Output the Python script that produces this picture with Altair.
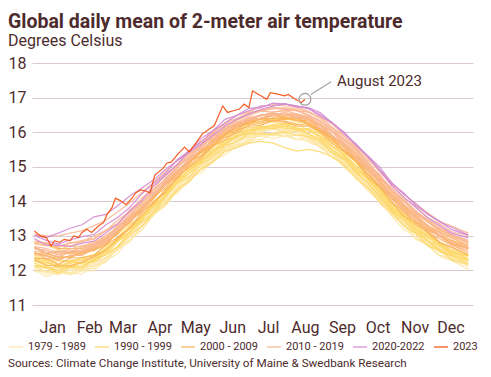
import altair as alt
import pandas as pd

TITLE = "Global daily mean of 2-meter air temperature"
SUBTITLE = "Degrees Celsius"
SOURCE = "Sources: Climate Change Institute, University of Maine & Swedbank Research"
TEXT = "#4d2b2d"

GROUPS = ["1979 - 1989", "1990 - 1999", "2000 - 2009", "2010 - 2019", "2020-2022", "2023"]
GROUP_COLORS = ["#fde7a6", "#fdd86a", "#fbb45b", "#f9b896", "#d48bd0", "#f54c0c"]

MONTHS = ["Jan", "Feb", "Mar", "Apr", "May", "Jun", "Jul", "Aug", "Sep", "Oct", "Nov", "Dec"]
MONTH_MID_DAY = [15, 46, 74, 105, 135, 166, 196, 227, 258, 288, 319, 349]
Y_TICKS = [11, 12, 13, 14, 15, 16, 17, 18]

DAYS = [0, 10, 20, 30, 40, 50, 60, 70, 80, 90, 100, 110, 120, 130, 140, 150, 160, 170,
        180, 190, 200, 210, 220, 230, 240, 250, 260, 270, 280, 290, 300, 310, 320, 330,
        340, 350, 364]

T1979 = [12.15, 11.90, 11.98, 11.93, 12.12, 12.12, 12.24, 12.65, 12.82, 13.31, 13.62, 13.88, 14.40, 14.58, 14.98, 15.18, 15.53, 15.57, 15.82, 15.98, 15.89, 15.97, 15.80, 15.85, 15.58, 15.28, 15.14, 14.70, 14.42, 13.93, 13.63, 13.36, 12.93, 12.76, 12.44, 12.38, 12.12]
T1980 = [12.11, 12.16, 11.99, 12.18, 12.05, 12.28, 12.54, 12.67, 13.07, 13.28, 13.79, 14.09, 14.36, 14.82, 15.01, 15.37, 15.47, 15.81, 15.88, 16.03, 16.12, 15.97, 16.02, 15.86, 15.80, 15.43, 15.09, 14.89, 14.51, 14.19, 13.67, 13.38, 13.19, 12.76, 12.64, 12.32, 12.27]
T1981 = [12.28, 12.08, 11.90, 12.05, 12.18, 12.26, 12.36, 12.58, 13.05, 13.42, 13.65, 14.07, 14.39, 14.63, 15.10, 15.31, 15.48, 15.73, 15.94, 15.92, 15.92, 16.06, 16.06, 15.84, 15.60, 15.46, 15.20, 14.75, 14.36, 14.11, 13.74, 13.32, 13.08, 12.88, 12.53, 12.41, 12.12]
T1982 = [12.04, 11.82, 11.95, 11.93, 11.90, 12.15, 12.29, 12.49, 12.97, 13.16, 13.60, 13.88, 14.32, 14.68, 14.82, 15.17, 15.46, 15.55, 15.77, 15.92, 15.81, 15.90, 15.91, 15.71, 15.58, 15.39, 15.03, 14.79, 14.46, 14.03, 13.72, 13.35, 13.13, 12.80, 12.61, 12.45, 12.25]
T1983 = [12.38, 12.33, 12.20, 12.31, 12.28, 12.44, 12.58, 12.88, 13.12, 13.49, 13.75, 14.17, 14.43, 14.82, 15.04, 15.41, 15.61, 15.73, 16.00, 16.01, 16.12, 16.00, 16.02, 15.88, 15.64, 15.46, 15.13, 14.87, 14.46, 14.06, 13.73, 13.35, 13.08, 12.74, 12.60, 12.36, 12.16]
T1984 = [12.11, 12.05, 11.93, 11.89, 12.05, 12.05, 12.40, 12.61, 12.83, 13.29, 13.59, 14.02, 14.24, 14.65, 14.92, 15.12, 15.50, 15.64, 15.71, 15.96, 15.94, 15.87, 15.92, 15.87, 15.54, 15.37, 14.96, 14.74, 14.43, 13.95, 13.60, 13.33, 12.90, 12.73, 12.44, 12.29, 12.03]
T1985 = [11.97, 11.96, 11.97, 11.88, 11.99, 11.99, 12.30, 12.64, 12.89, 13.15, 13.63, 13.87, 14.31, 14.55, 14.97, 15.19, 15.34, 15.63, 15.74, 15.79, 15.94, 15.89, 15.78, 15.76, 15.59, 15.25, 15.08, 14.69, 14.29, 14.01, 13.56, 13.18, 12.97, 12.73, 12.41, 12.28, 12.15]
T1986 = [12.15, 11.96, 11.97, 12.09, 11.99, 12.20, 12.35, 12.72, 13.08, 13.27, 13.69, 14.08, 14.30, 14.69, 14.93, 15.31, 15.53, 15.66, 15.90, 15.87, 15.99, 16.02, 16.02, 15.80, 15.67, 15.47, 15.08, 14.82, 14.52, 14.08, 13.72, 13.45, 13.08, 12.84, 12.66, 12.41, 12.27]
T1987 = [12.15, 12.10, 11.98, 12.11, 12.12, 12.30, 12.46, 12.83, 13.08, 13.47, 13.77, 14.20, 14.51, 14.80, 15.18, 15.43, 15.73, 15.85, 16.03, 16.18, 16.16, 16.19, 16.10, 16.07, 15.83, 15.57, 15.33, 14.93, 14.63, 14.22, 13.77, 13.53, 13.26, 12.93, 12.78, 12.54, 12.42]
T1988 = [12.39, 12.32, 12.30, 12.27, 12.36, 12.42, 12.66, 12.88, 13.23, 13.50, 13.89, 14.19, 14.57, 14.82, 15.17, 15.38, 15.69, 15.80, 15.99, 16.04, 16.11, 16.06, 16.06, 15.90, 15.74, 15.44, 15.19, 14.80, 14.49, 14.07, 13.70, 13.33, 13.07, 12.76, 12.58, 12.32, 12.18]
T1989 = [12.05, 11.99, 11.88, 12.01, 12.02, 12.22, 12.37, 12.72, 12.98, 13.38, 13.69, 13.99, 14.44, 14.72, 14.97, 15.35, 15.55, 15.76, 15.84, 16.00, 16.08, 16.03, 16.02, 15.96, 15.70, 15.49, 15.25, 14.85, 14.54, 14.14, 13.79, 13.44, 13.19, 12.85, 12.66, 12.50, 12.28]
T1990 = [12.39, 12.18, 12.28, 12.26, 12.20, 12.45, 12.72, 12.86, 13.24, 13.46, 13.91, 14.31, 14.54, 14.96, 15.18, 15.53, 15.67, 15.94, 16.13, 16.13, 16.22, 16.26, 16.11, 16.10, 15.94, 15.60, 15.36, 14.94, 14.70, 14.38, 13.85, 13.60, 13.19, 13.04, 12.78, 12.52, 12.43]
T1991 = [12.32, 12.28, 12.12, 12.26, 12.35, 12.33, 12.62, 12.87, 13.11, 13.57, 13.88, 14.15, 14.64, 14.88, 15.21, 15.42, 15.76, 15.90, 15.99, 16.16, 16.15, 16.11, 16.10, 15.95, 15.78, 15.49, 15.24, 14.85, 14.54, 14.15, 13.71, 13.44, 13.11, 12.87, 12.60, 12.43, 12.20]
T1992 = [12.30, 12.15, 12.17, 12.12, 12.23, 12.25, 12.47, 12.67, 13.02, 13.26, 13.68, 13.94, 14.33, 14.59, 14.93, 15.15, 15.44, 15.56, 15.68, 15.73, 15.69, 15.55, 15.45, 15.50, 15.43, 15.29, 15.05, 14.65, 14.38, 13.97, 13.67, 13.28, 13.06, 12.71, 12.58, 12.31, 12.19]
T1993 = [12.12, 12.11, 11.92, 12.09, 12.06, 12.31, 12.46, 12.68, 13.12, 13.40, 13.67, 14.13, 14.52, 14.71, 15.09, 15.25, 15.61, 15.73, 15.96, 15.95, 15.94, 16.00, 15.92, 15.87, 15.72, 15.40, 15.21, 14.82, 14.55, 14.08, 13.75, 13.48, 13.08, 12.87, 12.54, 12.43, 12.29]
T1994 = [12.21, 12.07, 12.08, 12.09, 12.24, 12.29, 12.60, 12.85, 13.10, 13.54, 13.84, 14.14, 14.57, 14.93, 15.12, 15.46, 15.62, 15.88, 16.08, 16.08, 16.19, 16.16, 16.04, 16.04, 15.87, 15.59, 15.35, 15.04, 14.64, 14.31, 13.94, 13.56, 13.30, 12.99, 12.82, 12.58, 12.43]
T1995 = [12.45, 12.30, 12.32, 12.23, 12.37, 12.46, 12.57, 12.96, 13.33, 13.54, 13.98, 14.22, 14.64, 14.88, 15.27, 15.59, 15.75, 16.00, 16.06, 16.22, 16.30, 16.21, 16.24, 16.05, 15.88, 15.71, 15.31, 15.02, 14.61, 14.28, 13.82, 13.55, 13.18, 12.95, 12.70, 12.46, 12.32]
T1996 = [12.13, 12.09, 12.00, 12.12, 12.12, 12.34, 12.47, 12.84, 13.10, 13.51, 13.76, 14.18, 14.57, 14.80, 15.16, 15.35, 15.67, 15.89, 15.95, 16.13, 16.10, 16.16, 16.16, 15.95, 15.80, 15.49, 15.29, 14.90, 14.63, 14.23, 13.76, 13.53, 13.20, 12.85, 12.72, 12.56, 12.32]
T1997 = [12.28, 12.23, 12.10, 12.21, 12.30, 12.36, 12.64, 12.88, 13.27, 13.56, 14.00, 14.29, 14.71, 14.98, 15.35, 15.59, 15.89, 16.03, 16.24, 16.31, 16.40, 16.36, 16.38, 16.24, 16.10, 15.82, 15.58, 15.22, 14.93, 14.52, 14.18, 13.82, 13.58, 13.26, 13.10, 12.86, 12.73]
T1998 = [12.78, 12.73, 12.60, 12.71, 12.68, 12.84, 12.95, 13.28, 13.52, 13.89, 14.18, 14.56, 14.84, 15.20, 15.44, 15.76, 15.95, 16.16, 16.24, 16.39, 16.36, 16.40, 16.30, 16.23, 15.96, 15.77, 15.41, 15.12, 14.70, 14.38, 13.90, 13.64, 13.26, 13.03, 12.74, 12.58, 12.34]
T1999 = [12.26, 12.25, 12.07, 12.22, 12.22, 12.43, 12.52, 12.93, 13.19, 13.44, 13.89, 14.29, 14.53, 14.92, 15.13, 15.48, 15.77, 15.85, 16.07, 16.07, 16.19, 16.22, 16.09, 16.11, 15.86, 15.57, 15.36, 14.92, 14.65, 14.32, 13.83, 13.57, 13.17, 13.00, 12.75, 12.49, 12.41]
T2000 = [12.35, 12.34, 12.17, 12.36, 12.37, 12.43, 12.74, 12.96, 13.22, 13.68, 13.98, 14.26, 14.71, 14.99, 15.24, 15.60, 15.78, 16.06, 16.17, 16.20, 16.33, 16.29, 16.18, 16.17, 16.00, 15.67, 15.43, 15.15, 14.68, 14.40, 13.97, 13.57, 13.37, 13.14, 12.81, 12.68, 12.46]
T2001 = [12.53, 12.34, 12.40, 12.38, 12.53, 12.59, 12.72, 13.11, 13.47, 13.67, 14.09, 14.47, 14.71, 15.09, 15.43, 15.60, 15.93, 16.06, 16.30, 16.37, 16.31, 16.40, 16.41, 16.21, 16.08, 15.81, 15.46, 15.23, 14.85, 14.40, 14.12, 13.75, 13.40, 13.21, 13.03, 12.77, 12.63]
T2002 = [12.65, 12.50, 12.39, 12.53, 12.47, 12.68, 12.93, 13.11, 13.49, 13.73, 14.19, 14.49, 14.80, 15.22, 15.41, 15.75, 16.03, 16.10, 16.34, 16.39, 16.49, 16.40, 16.43, 16.37, 16.08, 15.91, 15.56, 15.30, 14.98, 14.50, 14.17, 13.76, 13.57, 13.25, 12.97, 12.88, 12.66]
T2003 = [12.65, 12.50, 12.52, 12.48, 12.58, 12.60, 12.86, 13.05, 13.44, 13.81, 14.07, 14.49, 14.88, 15.10, 15.45, 15.65, 15.97, 16.19, 16.24, 16.41, 16.49, 16.44, 16.35, 16.33, 16.06, 15.88, 15.63, 15.19, 14.92, 14.52, 14.06, 13.84, 13.51, 13.15, 13.02, 12.76, 12.65]
T2004 = [12.48, 12.48, 12.39, 12.37, 12.51, 12.68, 12.76, 13.12, 13.37, 13.75, 14.14, 14.38, 14.79, 15.14, 15.33, 15.70, 15.90, 16.14, 16.26, 16.30, 16.42, 16.37, 16.41, 16.27, 16.01, 15.86, 15.54, 15.16, 14.90, 14.51, 14.15, 13.78, 13.52, 13.19, 13.01, 12.84, 12.62]
T2005 = [12.68, 12.50, 12.56, 12.55, 12.53, 12.74, 12.88, 13.24, 13.53, 13.79, 14.20, 14.58, 14.85, 15.24, 15.45, 15.80, 16.07, 16.19, 16.39, 16.40, 16.52, 16.46, 16.49, 16.34, 16.21, 15.89, 15.65, 15.36, 14.91, 14.61, 14.16, 13.91, 13.50, 13.31, 13.01, 12.78, 12.64]
T2006 = [12.47, 12.42, 12.30, 12.43, 12.44, 12.62, 12.78, 13.15, 13.40, 13.82, 14.10, 14.51, 14.83, 15.11, 15.50, 15.74, 15.93, 16.20, 16.32, 16.37, 16.48, 16.51, 16.42, 16.35, 16.18, 15.89, 15.64, 15.28, 14.98, 14.57, 14.22, 13.86, 13.62, 13.30, 13.11, 12.94, 12.72]
T2007 = [12.83, 12.78, 12.63, 12.63, 12.63, 12.77, 12.91, 13.21, 13.47, 13.83, 14.11, 14.51, 14.79, 15.16, 15.42, 15.75, 15.93, 16.17, 16.27, 16.39, 16.39, 16.42, 16.33, 16.27, 16.01, 15.81, 15.46, 15.17, 14.76, 14.43, 13.97, 13.69, 13.33, 13.09, 12.81, 12.65, 12.45]
T2008 = [12.31, 12.15, 12.13, 12.13, 12.24, 12.40, 12.58, 12.92, 13.22, 13.60, 13.93, 14.35, 14.66, 15.04, 15.30, 15.63, 15.85, 15.98, 16.20, 16.26, 16.35, 16.32, 16.23, 16.20, 16.02, 15.74, 15.48, 15.18, 14.78, 14.44, 14.07, 13.70, 13.43, 13.10, 12.91, 12.74, 12.52]
T2009 = [12.50, 12.44, 12.33, 12.42, 12.51, 12.57, 12.82, 13.07, 13.45, 13.74, 14.15, 14.46, 14.87, 15.14, 15.51, 15.75, 16.03, 16.24, 16.35, 16.48, 16.55, 16.51, 16.53, 16.39, 16.22, 16.01, 15.68, 15.40, 15.02, 14.70, 14.27, 13.99, 13.67, 13.43, 13.16, 13.00, 12.80]
T2010 = [12.85, 12.80, 12.67, 12.78, 12.87, 12.92, 13.15, 13.35, 13.69, 13.96, 14.33, 14.63, 15.00, 15.27, 15.59, 15.82, 16.10, 16.23, 16.41, 16.47, 16.54, 16.49, 16.48, 16.33, 16.17, 15.87, 15.62, 15.23, 14.92, 14.50, 14.13, 13.76, 13.49, 13.17, 12.98, 12.73, 12.58]
T2011 = [12.47, 12.41, 12.30, 12.43, 12.44, 12.65, 12.78, 13.15, 13.43, 13.72, 14.16, 14.47, 14.76, 15.17, 15.50, 15.72, 16.01, 16.16, 16.35, 16.40, 16.47, 16.51, 16.42, 16.36, 16.11, 15.90, 15.57, 15.27, 14.95, 14.53, 14.16, 13.80, 13.53, 13.29, 13.02, 12.85, 12.63]
T2012 = [12.56, 12.50, 12.39, 12.55, 12.53, 12.71, 12.84, 13.21, 13.57, 13.80, 14.22, 14.54, 14.84, 15.25, 15.51, 15.73, 16.07, 16.28, 16.38, 16.51, 16.51, 16.56, 16.49, 16.44, 16.20, 16.01, 15.68, 15.37, 14.98, 14.66, 14.29, 13.91, 13.58, 13.25, 13.09, 12.82, 12.69]
T2013 = [12.69, 12.50, 12.56, 12.53, 12.68, 12.75, 12.88, 13.25, 13.46, 13.87, 14.17, 14.61, 14.92, 15.18, 15.55, 15.87, 16.03, 16.27, 16.33, 16.50, 16.49, 16.57, 16.46, 16.42, 16.25, 15.91, 15.67, 15.38, 14.95, 14.65, 14.28, 13.90, 13.64, 13.40, 13.12, 12.96, 12.75]
T2014 = [12.62, 12.59, 12.44, 12.55, 12.56, 12.76, 12.99, 13.19, 13.58, 13.95, 14.24, 14.54, 14.98, 15.34, 15.58, 15.89, 16.09, 16.30, 16.43, 16.48, 16.58, 16.62, 16.53, 16.46, 16.30, 16.01, 15.75, 15.46, 15.05, 14.72, 14.29, 14.02, 13.68, 13.46, 13.20, 13.05, 12.84]
T2015 = [12.69, 12.64, 12.52, 12.62, 12.72, 12.78, 13.02, 13.25, 13.64, 13.93, 14.34, 14.64, 15.01, 15.37, 15.62, 15.94, 16.14, 16.36, 16.54, 16.60, 16.67, 16.70, 16.62, 16.58, 16.40, 16.12, 15.89, 15.54, 15.24, 14.84, 14.50, 14.20, 13.92, 13.67, 13.42, 13.28, 13.08]
T2016 = [13.05, 13.00, 13.00, 13.08, 13.15, 13.29, 13.45, 13.70, 13.95, 14.25, 14.55, 14.86, 15.17, 15.47, 15.73, 15.99, 16.26, 16.40, 16.57, 16.63, 16.72, 16.69, 16.70, 16.57, 16.41, 16.14, 15.82, 15.53, 15.12, 14.73, 14.37, 13.99, 13.73, 13.40, 13.21, 13.03, 12.81]
T2017 = [12.80, 12.79, 12.68, 12.81, 12.82, 13.00, 13.15, 13.46, 13.70, 14.09, 14.36, 14.77, 15.05, 15.40, 15.66, 16.02, 16.21, 16.35, 16.55, 16.62, 16.70, 16.65, 16.65, 16.50, 16.34, 16.04, 15.79, 15.50, 15.09, 14.76, 14.30, 14.02, 13.66, 13.42, 13.23, 12.98, 12.83]
T2018 = [12.63, 12.58, 12.46, 12.57, 12.59, 12.77, 12.93, 13.30, 13.56, 13.96, 14.26, 14.67, 14.99, 15.27, 15.65, 15.90, 16.11, 16.35, 16.47, 16.61, 16.58, 16.63, 16.62, 16.48, 16.31, 16.10, 15.76, 15.46, 15.14, 14.72, 14.36, 14.06, 13.72, 13.47, 13.28, 13.04, 12.88]
T2019 = [12.77, 12.72, 12.72, 12.70, 12.84, 12.90, 13.17, 13.36, 13.75, 14.03, 14.46, 14.77, 15.07, 15.46, 15.74, 15.96, 16.28, 16.49, 16.60, 16.73, 16.80, 16.76, 16.74, 16.60, 16.43, 16.23, 15.89, 15.59, 15.20, 14.88, 14.45, 14.10, 13.84, 13.53, 13.35, 13.12, 13.00]
T2020 = [13.02, 12.95, 13.08, 13.22, 13.32, 13.55, 13.62, 13.88, 14.15, 14.38, 14.62, 14.92, 15.18, 15.42, 15.66, 15.92, 16.18, 16.38, 16.52, 16.66, 16.75, 16.82, 16.76, 16.68, 16.50, 16.28, 15.96, 15.62, 15.28, 14.88, 14.45, 14.12, 13.82, 13.52, 13.30, 13.08, 12.94]
T2021 = [12.92, 12.73, 12.74, 12.69, 12.79, 12.84, 13.09, 13.34, 13.72, 14.01, 14.44, 14.74, 15.07, 15.46, 15.72, 16.05, 16.26, 16.49, 16.62, 16.76, 16.77, 16.82, 16.75, 16.69, 16.46, 16.26, 15.95, 15.66, 15.29, 14.90, 14.54, 14.20, 13.94, 13.62, 13.42, 13.18, 13.02]
T2022 = [13.01, 12.87, 12.76, 12.88, 12.98, 13.04, 13.32, 13.54, 13.82, 14.21, 14.52, 14.81, 15.21, 15.46, 15.82, 16.05, 16.37, 16.49, 16.69, 16.71, 16.84, 16.82, 16.73, 16.71, 16.56, 16.26, 16.00, 15.62, 15.31, 14.98, 14.51, 14.24, 13.88, 13.64, 13.40, 13.25, 13.03]

YEARS = list(range(1979, 2023))
SERIES = [T1979, T1980, T1981, T1982, T1983, T1984, T1985, T1986, T1987, T1988, T1989,
          T1990, T1991, T1992, T1993, T1994, T1995, T1996, T1997, T1998, T1999,
          T2000, T2001, T2002, T2003, T2004, T2005, T2006, T2007, T2008, T2009,
          T2010, T2011, T2012, T2013, T2014, T2015, T2016, T2017, T2018, T2019,
          T2020, T2021, T2022]

DAYS_2023 = [0, 5, 10, 14, 17, 21, 25, 30, 33, 37, 40, 44, 48, 54, 58, 61, 65, 68, 72, 77,
             82, 85, 89, 94, 97, 101, 108, 111, 115, 120, 126, 130, 136, 141, 145, 151, 158,
             162, 167, 172, 176, 180, 183, 190, 195, 198, 205, 210, 213, 219, 224, 227]
T2023 = [13.14, 13.00, 12.95, 12.71, 12.86, 12.81, 12.90, 12.86, 13.00, 12.95, 13.10, 13.19,
         13.10, 13.29, 13.38, 13.62, 13.81, 14.09, 14.02, 13.90, 14.09, 14.24, 14.33, 14.29,
         14.24, 14.76, 14.95, 15.10, 15.14, 15.35, 15.57, 15.43, 15.71, 15.95, 16.05, 16.19,
         16.76, 16.57, 16.62, 16.67, 16.81, 16.71, 17.19, 17.05, 16.95, 17.14, 17.09, 17.05,
         17.09, 16.95, 16.86, 16.95]

ANNOTATION = "August 2023"
LEADER_DAY = [232, 249]
LEADER_TEMP = [17.09, 17.46]
LABEL_DAY = 254
LABEL_TEMP = 17.49


def group_of(year):
    if year <= 1989:
        return GROUPS[0]
    if year <= 1999:
        return GROUPS[1]
    if year <= 2009:
        return GROUPS[2]
    if year <= 2019:
        return GROUPS[3]
    if year <= 2022:
        return GROUPS[4]
    return GROUPS[5]


rows = []
for year, vals in zip(YEARS, SERIES):
    assert len(vals) == len(DAYS), year
    for d, t in zip(DAYS, vals):
        rows.append({"year": str(year), "group": group_of(year), "day": d, "temp": t})
assert len(DAYS_2023) == len(T2023)
for d, t in zip(DAYS_2023, T2023):
    rows.append({"year": "2023", "group": GROUPS[5], "day": d, "temp": t})
df = pd.DataFrame(rows)

last_df = pd.DataFrame({"day": [DAYS_2023[-1]], "temp": [T2023[-1]]})
leader_df = pd.DataFrame({"x1": [LEADER_DAY[0]], "x2": [LEADER_DAY[1]],
                          "y1": [LEADER_TEMP[0]], "y2": [LEADER_TEMP[1]]})
label_df = pd.DataFrame({"day": [LABEL_DAY], "temp": [LABEL_TEMP], "label": [ANNOTATION]})
source_df = pd.DataFrame({"label": [SOURCE]})

W, H = 441, 242
x_scale = alt.Scale(domain=[-2, 368], nice=False, zero=False)
y_scale = alt.Scale(domain=[11, 18], nice=False, zero=False)

months_js = "[" + ",".join(f"'{m}'" for m in MONTHS) + "]"
days_js = "[" + ",".join(str(d) for d in MONTH_MID_DAY) + "]"
label_expr = f"{months_js}[indexof({days_js}, datum.value)]"

legend = alt.Legend(title=None, orient="none", legendX=-24, legendY=276,
                    direction="horizontal", columns=6, symbolType="stroke",
                    symbolSize=196, labelFontSize=11, labelFont="Roboto",
                    labelColor=TEXT, columnPadding=6, labelOffset=4, padding=0)

lines = alt.Chart(df).mark_line().encode(
    x=alt.X("day:Q", scale=x_scale,
            axis=alt.Axis(values=MONTH_MID_DAY, tickCount=12, labelExpr=label_expr, title=None,
                          grid=False, ticks=False, tickSize=0, domain=False,
                          labelFontSize=16, labelFont="Roboto", labelColor=TEXT,
                          labelPadding=14, labelOverlap=False, labelFlush=False)),
    y=alt.Y("temp:Q", scale=y_scale,
            axis=alt.Axis(values=Y_TICKS, tickCount=8, title=None, grid=True, ticks=False,
                          tickSize=0, domain=False, labelFontSize=16, labelFont="Roboto",
                          labelColor=TEXT, labelPadding=6, format="d",
                          labelOverlap=False, gridColor="#d9cbcf", gridWidth=1.2)),
    color=alt.Color("group:N", scale=alt.Scale(domain=GROUPS, range=GROUP_COLORS),
                    legend=legend),
    strokeWidth=alt.StrokeWidth("group:N",
                                scale=alt.Scale(domain=GROUPS, range=[1.2, 1.2, 1.2, 1.2, 1.3, 3.8]),
                                legend=legend),
    strokeOpacity=alt.StrokeOpacity("group:N",
                                    scale=alt.Scale(domain=GROUPS, range=[0.9, 0.9, 0.9, 0.9, 0.95, 1.0]),
                                    legend=None),
    detail="year:N",
)

circle = alt.Chart(last_df).mark_point(shape="circle", size=140, filled=False,
                                       stroke="#a99fa2", strokeWidth=1.2, opacity=1).encode(
    x=alt.X("day:Q", scale=x_scale, title=None),
    y=alt.Y("temp:Q", scale=y_scale, title=None),
)

leader = alt.Chart(leader_df).mark_rule(color="#a99fa2", strokeWidth=1.2).encode(
    x=alt.X("x1:Q", scale=x_scale, title=None),
    y=alt.Y("y1:Q", scale=y_scale, title=None),
    x2="x2:Q",
    y2="y2:Q",
)

label = alt.Chart(label_df).mark_text(align="left", baseline="middle", fontSize=15,
                                      font="Roboto", color=TEXT).encode(
    x=alt.X("day:Q", scale=x_scale, title=None),
    y=alt.Y("temp:Q", scale=y_scale, title=None),
    text="label:N",
)

source = alt.Chart(source_df).mark_text(align="left", baseline="alphabetic", fontSize=11.7,
                                        font="Roboto", color=TEXT).encode(
    x=alt.value(-24),
    y=alt.value(H + 62),
    text="label:N",
)

chart = alt.layer(lines, leader, circle, label, source).properties(
    width=W, height=H,
    background="white",
    title=alt.TitleParams(TITLE, subtitle=SUBTITLE, anchor="start", font="Roboto",
                          fontSize=19.5, fontWeight="bold", color=TEXT,
                          subtitleFont="Roboto", subtitleFontSize=16,
                          subtitleColor=TEXT, subtitlePadding=1, offset=5),
    padding={"left": 0, "top": 3, "right": 0, "bottom": 0},
).configure_view(stroke=None)

chart.save("out.html", embed_options={"renderer": "svg", "actions": False})
